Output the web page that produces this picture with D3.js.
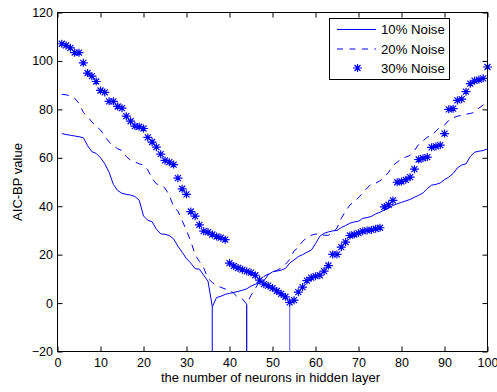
<!DOCTYPE html>
<html>
<head>
<meta charset="utf-8">
<script src="https://d3js.org/d3.v7.min.js"></script>
<style>
  html, body { margin: 0; padding: 0; background: #fff; }
  svg { display: block; }
  text { font-family: Arial, "Liberation Sans", sans-serif; fill: #000; }
</style>
</head>
<body>
<svg id="chart" width="497" height="392"></svg>
<script>
// ---------- DATA ----------
const neurons = d3.range(1, 101);   // x = 1..100

const noise10 = [
  70, 69.6, 69.3, 69, 68.7, 68.3, 65, 62.5, 61.8, 60,
  57.5, 54, 49, 46.5, 45.3, 44.9, 44.6, 44, 42.5, 36,
  34.2, 33.6, 30.5, 28.6, 28.4, 27.9, 26.5, 23.5, 21, 18.3,
  16.5, 14.2, 14, 11.5, 9, -1.5, 2.3, 2.8, 3.6, 4,
  4.4, 4.8, 5.3, 5.9, 7, 7.8, 8.3, 9.2, 11.7, 12.9,
  13.2, 13.6, 14.3, 16.5, 17.8, 19.2, 20, 21, 21.8, 24.5,
  27.6, 28.8, 29.4, 29.8, 30, 31.2, 32, 33, 33.5, 33.8,
  35, 35.3, 35.8, 36.8, 37.5, 38.4, 39.3, 40.3, 41, 41.6,
  42.2, 42.8, 43.7, 44.5, 45.5, 47.3, 48.7, 49, 49.6, 51,
  52, 53.5, 55.8, 57, 57.5, 60.5, 62.3, 62.7, 63, 63.7
];

const noise20 = [
  86.2, 86, 85.5, 84.6, 82.5, 78.8, 77, 74.8, 73, 71.5,
  68.8, 66.5, 65, 63.7, 63, 60.5, 59, 58.3, 57.5, 57,
  55, 51.5, 49.2, 48.7, 47.5, 44.5, 39.8, 38, 34, 30,
  25.5, 20, 17.2, 14.5, 10.2, 8.5, 7.2, 6.5, 5.8, 5.4,
  4, 2.3, 1.7, -0.5, 3.2, 6, 9, 11, 12, 13,
  13.5, 14.5, 16, 18, 21.5, 23, 25.5, 27, 28, 28.5,
  28.5, 28, 28, 29, 31, 35, 38, 40.5, 42, 43.5,
  45.5, 47.5, 49.2, 49.5, 50.5, 52, 54, 56.8, 58.2, 59.6,
  60.3, 61, 63, 65.5, 67, 68.5, 69.2, 71, 72.7, 73.5,
  75.5, 76.5, 77.2, 77.5, 78, 78.3, 78.8, 80.5, 81.8, 82.5
];

const noise30 = [
  107.1, 106.4, 105.4, 103.4, 103.4, 99.2, 95, 93.7, 91.5, 87.8,
  87, 83.3, 83.3, 81.2, 80.5, 77.2, 75.1, 73.1, 72.8, 72.1,
  68.4, 66.5, 64.4, 61.5, 58.9, 58.2, 57.2, 51.6, 47.2, 44.9,
  37.8, 35.9, 32.3, 29.7, 29.3, 28.3, 27.5, 27, 26.2, 16.5,
  15.3, 14.5, 13.8, 13.1, 12.6, 11.5, 9.5, 7.8, 7.2, 6.2,
  5, 3.8, 2.6, 0.3, 1.2, 4.5, 6.6, 9.3, 10.5, 11.1,
  11.5, 13.2, 15.5, 20.1, 20.1, 23.1, 25.2, 27.9, 28.3, 28.9,
  29.7, 30, 30.2, 30.7, 31.1, 39.7, 40.6, 42.4, 49.9, 50.2,
  50.9, 52, 55.3, 59.3, 59.8, 60.3, 64.3, 64.7, 65.2, 70,
  80, 80.3, 83.7, 84.2, 87.3, 90.6, 91.8, 92.3, 92.8, 97.5
];

const seriesNames = ["10% Noise", "20% Noise", "30% Noise"];
const xTicks = [0, 10, 20, 30, 40, 50, 60, 70, 80, 90, 100];
const yTicks = [-20, 0, 20, 40, 60, 80, 100, 120];
const xTitle = "the number of neurons in hidden layer";
const yTitle = "AIC-BP value";

// ---------- LAYOUT ----------
const svg = d3.select("#chart");
const X0 = 57.5, X1 = 487.5, Y0 = 351.5, Y1 = 12.5;
const blue = "#0000ff";

const x = d3.scaleLinear().domain([0, 100]).range([X0, X1]);
const y = d3.scaleLinear().domain([-20, 120]).range([Y0, Y1]);

svg.append("defs").append("clipPath").attr("id", "plotclip")
  .append("rect").attr("x", X0).attr("y", Y1 - 6).attr("width", X1 - X0 + 6).attr("height", Y0 - Y1 + 6);

svg.append("rect").attr("x", X0).attr("y", Y1).attr("width", X1 - X0).attr("height", Y0 - Y1)
  .attr("fill", "#fff");

const plot = svg.append("g").attr("clip-path", "url(#plotclip)");

const line = d3.line().x((d, i) => x(neurons[i])).y(d => y(d));

// stems at each series' minimum
const allSeries = [noise10, noise20, noise30];
const stemColors = ["#2a2aff", "#0000cc", "#7070ff"];
allSeries.forEach((s, k) => {
  const mi = d3.minIndex(s);
  plot.append("line")
    .attr("x1", x(neurons[mi])).attr("x2", x(neurons[mi]))
    .attr("y1", y(s[mi])).attr("y2", y(-20))
    .attr("stroke", stemColors[k]).attr("stroke-width", 1.2);
});

// 10% solid
plot.append("path").datum(noise10)
  .attr("d", line).attr("fill", "none").attr("stroke", blue).attr("stroke-width", 1);

// 20% dashed
plot.append("path").datum(noise20)
  .attr("d", line).attr("fill", "none").attr("stroke", blue).attr("stroke-width", 1)
  .attr("stroke-dasharray", "7,6");

// 30% stars
const starPath = "M-4.5,0L4.5,0M0,-4L0,4M-3,-3L3,3M-3,3L3,-3";
plot.selectAll("path.star").data(noise30).enter().append("path")
  .attr("class", "star")
  .attr("transform", (d, i) => `translate(${x(neurons[i])},${y(d)})`)
  .attr("d", starPath).attr("fill", "none").attr("stroke", blue).attr("stroke-width", 1.2);

// ---------- AXES ----------
const fontSize = 12;
const gB = svg.append("g").attr("transform", `translate(0,${Y0})`)
  .call(d3.axisBottom(x).tickValues(xTicks).tickSize(-5).tickSizeOuter(0).tickPadding(7));
const gT = svg.append("g").attr("transform", `translate(0,${Y1})`)
  .call(d3.axisTop(x).tickValues(xTicks).tickSize(-5).tickSizeOuter(0).tickFormat(""));
const gL = svg.append("g").attr("transform", `translate(${X0},0)`)
  .call(d3.axisLeft(y).tickValues(yTicks).tickSize(-5).tickSizeOuter(0).tickPadding(4.5));
const gR = svg.append("g").attr("transform", `translate(${X1},0)`)
  .call(d3.axisRight(y).tickValues(yTicks).tickSize(-5).tickSizeOuter(0).tickFormat(""));

[gB, gT, gL, gR].forEach(g => {
  g.select(".domain").remove();
  g.selectAll(".tick line").attr("stroke", "#000").attr("stroke-width", 1);
  g.selectAll("text").attr("font-size", 12.5).attr("fill", "#000")
    .attr("font-family", "Arial, 'Liberation Sans', sans-serif");
});

// frame
svg.append("rect").attr("x", X0).attr("y", Y1).attr("width", X1 - X0).attr("height", Y0 - Y1)
  .attr("fill", "none").attr("stroke", "#000").attr("stroke-width", 1);

// titles
svg.append("text").attr("x", (X0 + X1) / 2 - 2).attr("y", 382)
  .attr("text-anchor", "middle").attr("font-size", 13).text(xTitle);
svg.append("text").attr("transform", `translate(21.5,${(Y0 + Y1) / 2}) rotate(-90)`)
  .attr("text-anchor", "middle").attr("font-size", 13).text(yTitle);

// ---------- LEGEND ----------
const lg = svg.append("g");
lg.append("rect").attr("x", 329.5).attr("y", 18.5).attr("width", 120).attr("height", 61)
  .attr("fill", "#fff").attr("stroke", "#000").attr("stroke-width", 1);
const rowsY = [29.5, 49, 68];
seriesNames.forEach((name, i) => {
  const ry = rowsY[i];
  if (i < 2) {
    lg.append("line").attr("x1", 337).attr("x2", 376).attr("y1", ry).attr("y2", ry)
      .attr("stroke", blue).attr("stroke-width", 1)
      .attr("stroke-dasharray", i === 1 ? "6,6.5" : null);
  } else {
    lg.append("path").attr("transform", `translate(357.5,${ry})`).attr("d", starPath)
      .attr("fill", "none").attr("stroke", blue).attr("stroke-width", 1.2);
  }
  lg.append("text").attr("x", 381).attr("y", ry).attr("dy", "0.36em")
    .attr("font-size", 13.2).text(name);
});
</script>
</body>
</html>
